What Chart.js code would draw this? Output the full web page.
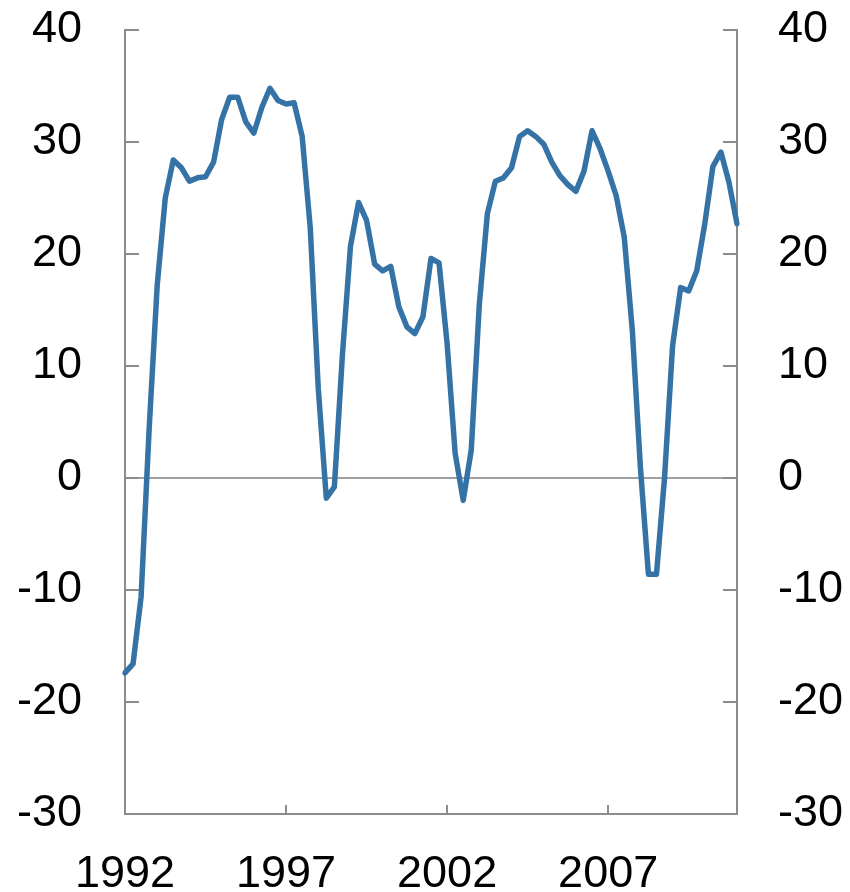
<!DOCTYPE html>
<html>
<head>
<meta charset="utf-8">
<script src="https://cdn.jsdelivr.net/npm/chart.js@4.4.0/dist/chart.umd.min.js"></script>
<style>
html,body{margin:0;padding:0;background:#ffffff;}
#wrap{width:850px;height:892px;position:relative;}
</style>
</head>
<body>
<div id="wrap"><canvas id="c" width="850" height="892"></canvas></div>
<script>
// Quarterly categories 1992Q1 .. 2011Q1
const startYear = 1992;
const quarterCount = 77;
const quarters = [];
for (let i = 0; i < quarterCount; i++) {
  quarters.push((startYear + Math.floor(i / 4)) + 'Q' + (i % 4 + 1));
}

// Series values
const values = [
  -17.4, -16.6, -10.6, 4.4, 17.2, 25.0, 28.4, 27.7, 26.5, 26.8,
  26.9, 28.2, 32.0, 34.0, 34.0, 31.8, 30.8, 33.1, 34.8, 33.7,
  33.4, 33.5, 30.5, 22.4, 8.0, -1.8, -0.8, 11.0, 20.7, 24.6,
  23.0, 19.1, 18.5, 18.9, 15.3, 13.5, 12.9, 14.4, 19.6, 19.2,
  12.0, 2.2, -2.0, 2.5, 15.5, 23.6, 26.5, 26.8, 27.7, 30.5,
  31.0, 30.5, 29.8, 28.2, 27.0, 26.2, 25.6, 27.4, 31.0, 29.4,
  27.4, 25.2, 21.5, 13.2, 1.0, -8.6, -8.6, 0.0, 11.8, 17.0,
  16.7, 18.5, 22.7, 27.8, 29.1, 26.4, 22.7
];

// Tick labels shown on the x axis
const xTickLabels = ['1992', '1997', '2002', '2007'];
// Y axis range and step
const yMin = -30, yMax = 40, yStep = 10;

const axisColor = '#8c8c8c';
const zeroColor = '#a0a0a0';
const lineColor = '#3573a6';
const fontFamily = '"Liberation Sans", Arial, sans-serif';

function xLabelFor(i) {
  const q = quarters[i];
  if (q && q.endsWith('Q1')) {
    const yr = q.slice(0, 4);
    if (xTickLabels.includes(yr)) return yr;
  }
  return '';
}

const innerTicks = {
  id: 'innerTicks',
  beforeDatasetsDraw(chart) {
    const ctx = chart.ctx;
    const a = chart.chartArea;
    const y = chart.scales.y;
    const x = chart.scales.x;
    ctx.save();
    ctx.strokeStyle = axisColor;
    ctx.lineWidth = 2;
    ctx.beginPath();
    y.ticks.forEach(t => {
      const py = Math.round(y.getPixelForValue(t.value));
      ctx.moveTo(a.left, py); ctx.lineTo(a.left + 14, py);
      ctx.moveTo(a.right - 14, py); ctx.lineTo(a.right, py);
    });
    x.ticks.forEach((t, i) => {
      if (i > 0 && xLabelFor(i)) {
        const px = Math.round(x.getPixelForTick(i));
        ctx.moveTo(px, a.bottom); ctx.lineTo(px, a.bottom - 9);
      }
    });
    ctx.stroke();
    ctx.restore();
  }
};

function noPad(s) { s.paddingTop = 0; s.paddingBottom = 0; }

new Chart(document.getElementById('c'), {
  type: 'line',
  data: {
    labels: quarters,
    datasets: [{
      data: values,
      borderColor: lineColor,
      borderWidth: 5.5,
      borderJoinStyle: 'round',
      borderCapStyle: 'round',
      pointRadius: 0,
      tension: 0,
      fill: false,
      yAxisID: 'y'
    }]
  },
  plugins: [innerTicks],
  options: {
    responsive: false,
    animation: false,
    devicePixelRatio: 1,
    layout: { padding: { top: 30, left: 0, right: 0, bottom: 0 } },
    plugins: { legend: { display: false }, tooltip: { enabled: false } },
    scales: {
      x: {
        type: 'category',
        offset: false,
        grid: { display: true, drawOnChartArea: false, drawTicks: false, color: 'rgba(0,0,0,0)' },
        border: { display: true, color: axisColor, width: 2 },
        ticks: {
          autoSkip: false,
          maxRotation: 0,
          minRotation: 0,
          padding: 34,
          color: '#000000',
          font: { family: fontFamily, size: 45 },
          callback: function (v, i) { return xLabelFor(i); }
        },
        afterFit: function (s) { s.height = 78; s.paddingLeft = 0; s.paddingRight = 0; }
      },
      y: {
        position: 'left',
        min: yMin, max: yMax,
        grid: {
          drawTicks: false,
          color: ctx => (ctx.tick && ctx.tick.value === 0) ? zeroColor : 'rgba(0,0,0,0)',
          lineWidth: 2
        },
        border: { display: true, color: axisColor, width: 2 },
        ticks: {
          stepSize: yStep,
          padding: 43,
          color: '#000000',
          font: { family: fontFamily, size: 45 }
        },
        afterFit: function (s) { s.width = 125; noPad(s); }
      },
      y2: {
        position: 'right',
        min: yMin, max: yMax,
        grid: { display: true, drawOnChartArea: false, drawTicks: false, color: 'rgba(0,0,0,0)' },
        border: { display: true, color: axisColor, width: 2 },
        ticks: {
          stepSize: yStep,
          padding: 41,
          color: '#000000',
          font: { family: fontFamily, size: 45 }
        },
        afterFit: function (s) { s.width = 113; noPad(s); }
      }
    }
  }
});
</script>
</body>
</html>
